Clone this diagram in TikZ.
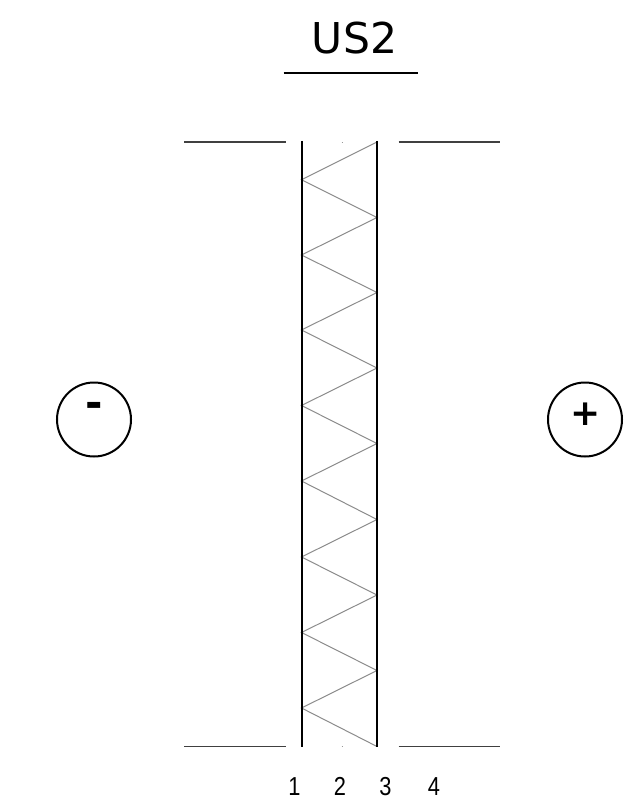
\documentclass[tikz,border=0pt]{standalone}
\usepackage{fontspec}
\setmainfont{DejaVu Sans}
\newfontfamily\numfont{Liberation Sans}
\tikzset{
  thinrule/.style={draw=black!75,line width=1.2pt},
  wall/.style={draw=black,line width=2.1pt},
  zig/.style={draw=black!45,line width=1pt},
  pole/.style={circle,draw=black,line width=2pt,minimum size=74pt,inner sep=0pt},
  sign/.style={inner sep=0pt,font=\fontsize{36}{36}\selectfont\bfseries},
  num/.style={inner sep=0pt,anchor=base,xscale=.84,transform shape,font=\fontsize{26}{26}\selectfont\numfont}
}
\begin{document}
\begin{tikzpicture}[x=1pt,y=-1pt]
\useasboundingbox (0,0) rectangle (637,810);
\fill[white] (0,0) rectangle (637,810);
% title
\node[inner sep=0pt,font=\fontsize{42.5}{42.5}\selectfont] (title) at (354.5,38.5) {US2};
\coordinate (ua) at (283.5,73); \coordinate (ub) at (418,73);
\draw[draw=black,line width=1.6pt] (ua) -- (ub);
% rules
\coordinate (tl1) at (184,142); \coordinate (tl2) at (285.5,142);
\coordinate (tr1) at (398.5,142); \coordinate (tr2) at (500,142);
\coordinate (bl1) at (184,746.5); \coordinate (bl2) at (285.5,746.5);
\coordinate (br1) at (398.5,746.5); \coordinate (br2) at (500,746.5);
\draw[thinrule] (tl1) -- (tl2);
\draw[thinrule] (tr1) -- (tr2);
\draw[thinrule] (bl1) -- (bl2);
\draw[thinrule] (br1) -- (br2);
% zigzag
\foreach \i/\px/\py in {0/377/142,1/301.5/179.8,2/377/217.5,3/301.5/255,4/377/292.5,5/301.5/330,6/377/368,7/301.5/405.5,8/377/443.5,9/301.5/481,10/377/519.5,11/301.5/557,12/377/595,13/301.5/632.5,14/377/670.5,15/301.5/708,16/377/746.5}
  \coordinate (z\i) at (\px,\py);
\draw[zig] (z0) -- (z1) -- (z2) -- (z3) -- (z4) -- (z5) -- (z6) -- (z7) -- (z8) -- (z9) -- (z10) -- (z11) -- (z12) -- (z13) -- (z14) -- (z15) -- (z16);
% walls
\coordinate (w1a) at (301.6,141); \coordinate (w1b) at (301.6,747);
\coordinate (w3a) at (377.4,141); \coordinate (w3b) at (377.4,747);
\draw[wall] (w1a) -- (w1b);
\draw[wall] (w3a) -- (w3b);
% specks
\coordinate (s1) at (341.5,142); \coordinate (s2) at (342.5,142);
\coordinate (s3) at (341.5,746.5); \coordinate (s4) at (342.5,746.5);
\draw[draw=black!40,line width=.7pt] (s1) -- (s2);
\draw[draw=black!40,line width=.7pt] (s3) -- (s4);
% poles
\node[pole] (minus) at (94,419.5) {};
\node[pole] (plus) at (585,419.5) {};
\node[sign,font=\fontsize{42}{42}\selectfont\bfseries] (minussign) at (94,410) {-};
\node[sign] (plussign) at (585.5,414) {+};
% numbers
\node[num] (n1) at (294.5,795) {1};
\node[num] (n2) at (340,795) {2};
\node[num] (n3) at (385.5,795) {3};
\node[num] (n4) at (434,795) {4};
\end{tikzpicture}
\end{document}
